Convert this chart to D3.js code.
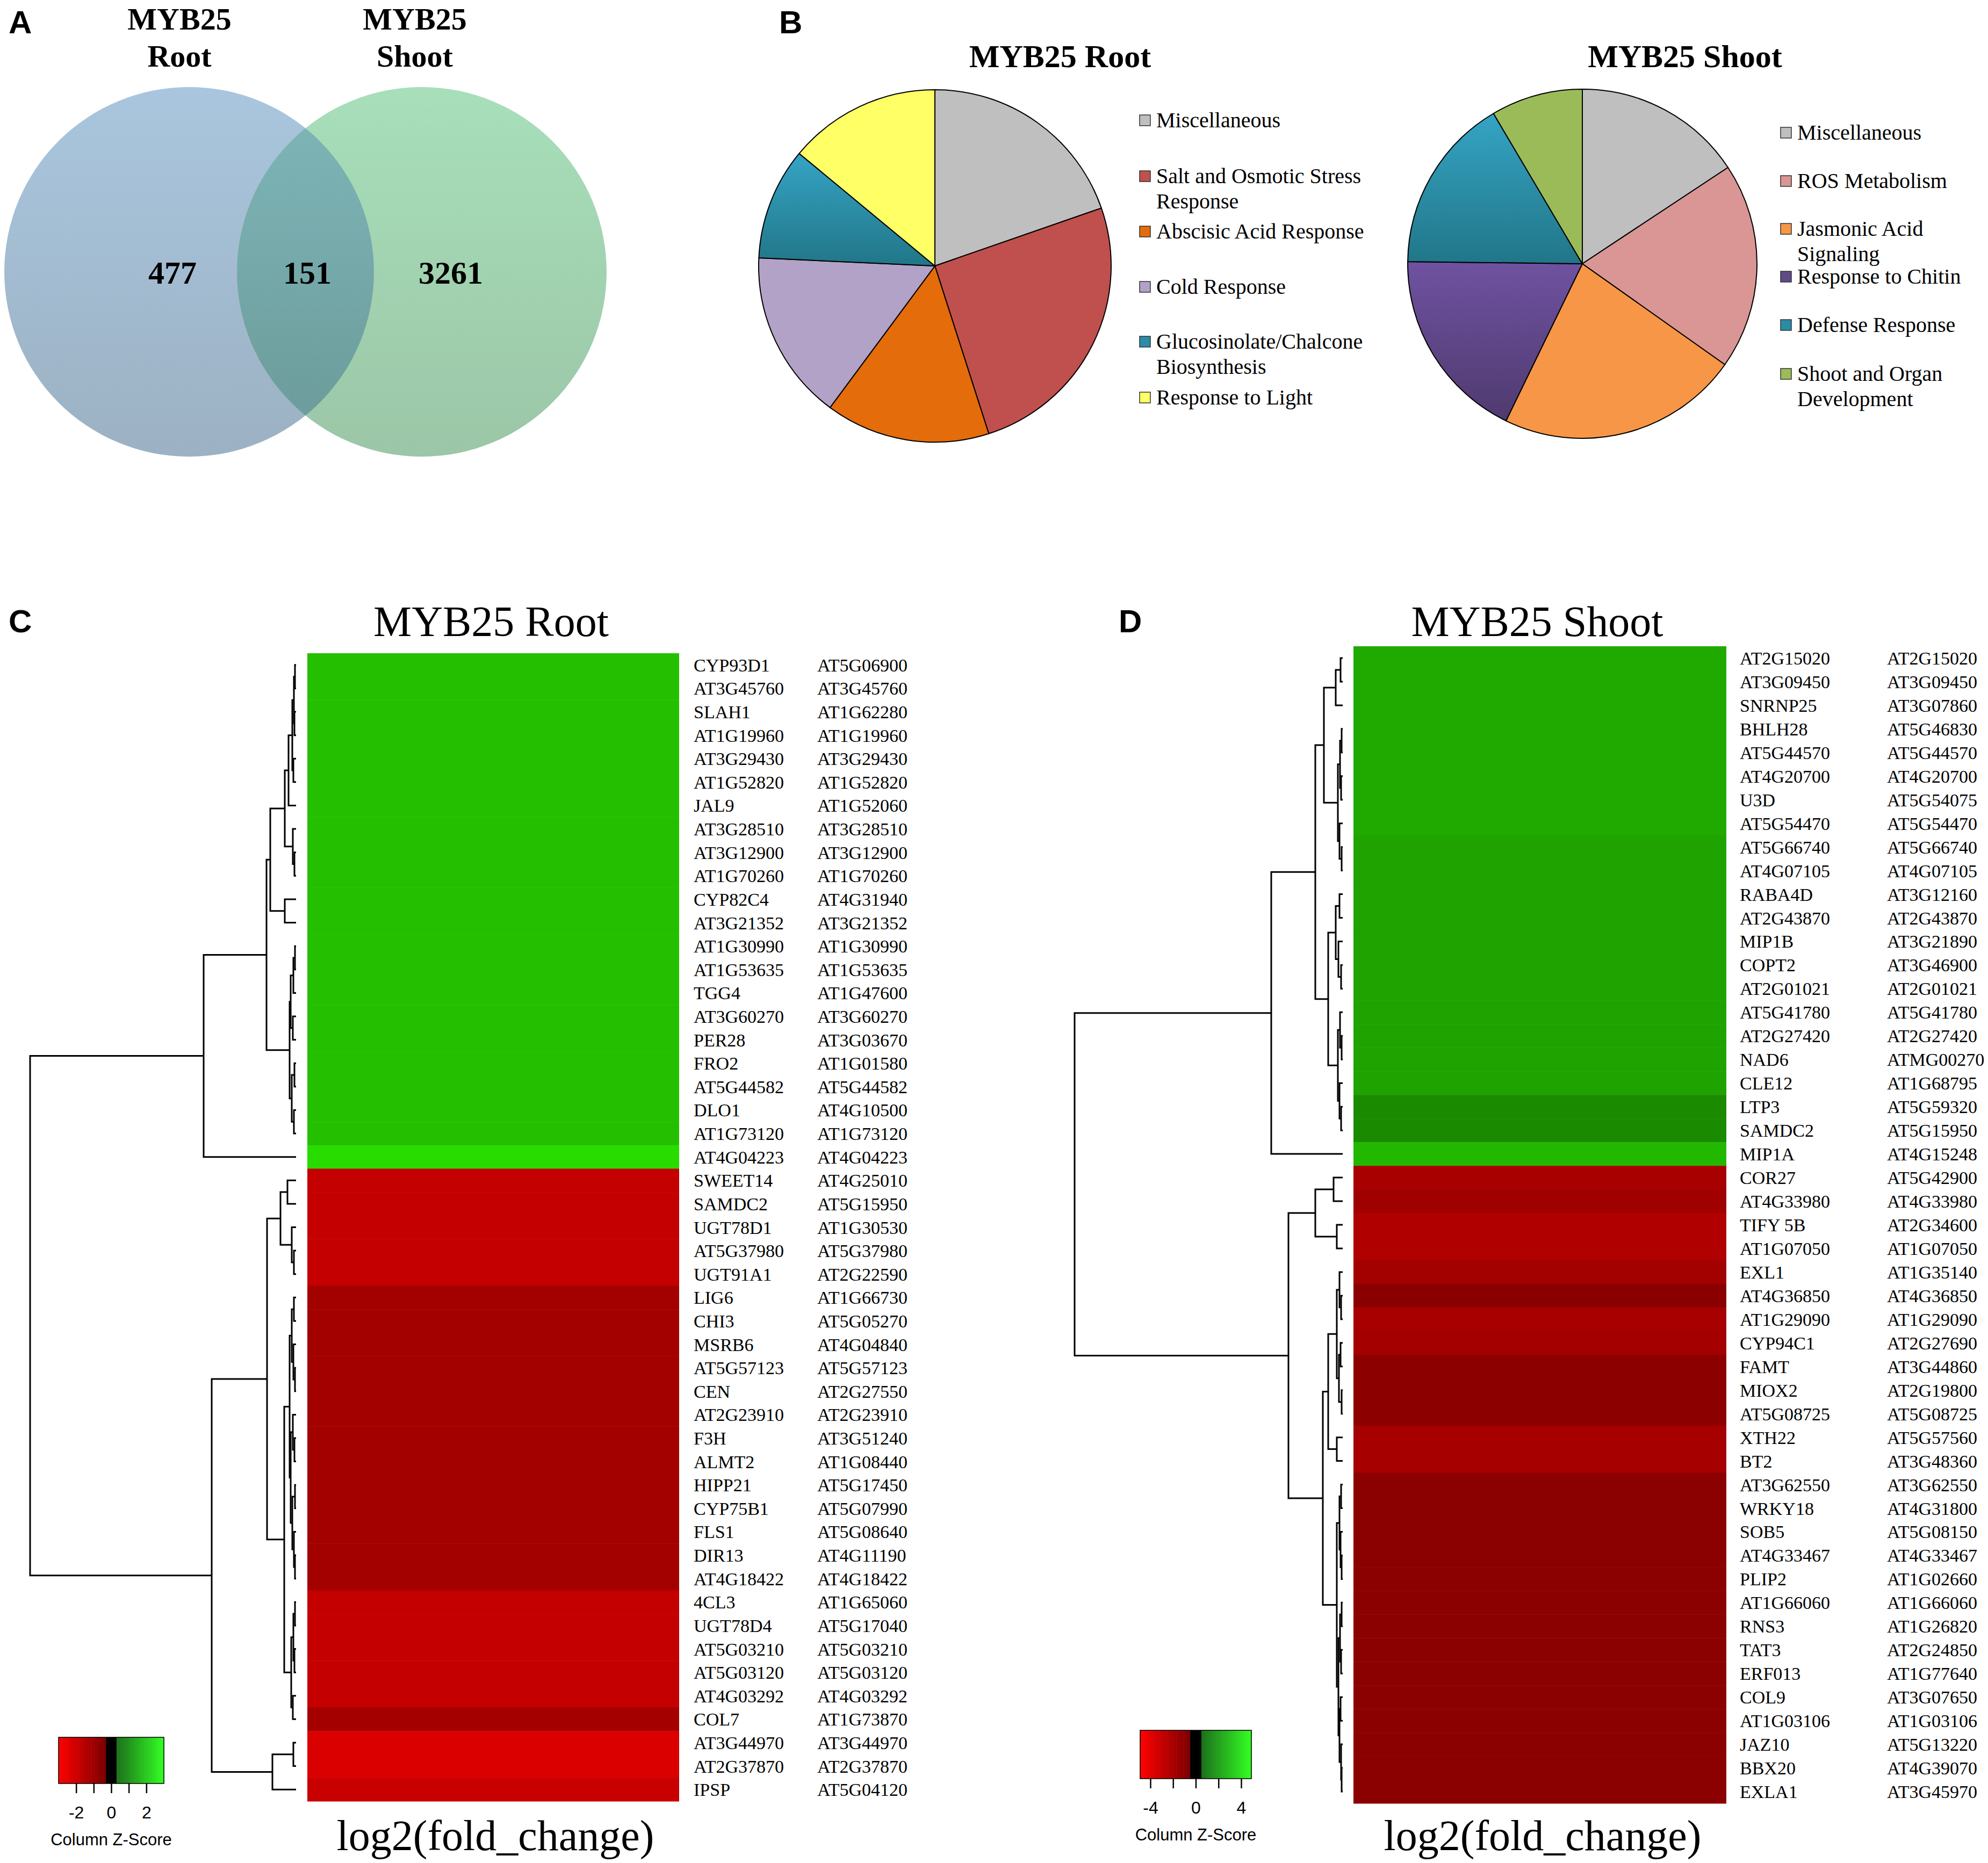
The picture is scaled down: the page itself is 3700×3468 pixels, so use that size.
<!DOCTYPE html>
<html>
<head>
<meta charset="utf-8">
<script src="https://cdn.jsdelivr.net/npm/d3@7"></script>
<style>
  body { margin: 0; background: #fff; }
  svg { display: block; }
</style>
</head>
<body>
<svg width="3700" height="3468" viewBox="0 0 3700 3468"></svg>

<script>

  // ---------- data ----------

  // venn counts (root only, shared, shoot only)
  var vennCounts = [477, 151, 3261];

  // pie slices (share of genes)
  var rootCategories = ["Miscellaneous", "Salt and Osmotic Stress|Response", "Abscisic Acid Response",
    "Cold Response", "Glucosinolate/Chalcone|Biosynthesis", "Response to Light"];
  var rootShares = [19.7, 25.4, 15.1, 15.6, 10.3, 14.0];

  var shootCategories = ["Miscellaneous", "ROS Metabolism", "Jasmonic Acid|Signaling",
    "Response to Chitin", "Defense Response", "Shoot and Organ|Development"];
  var shootShares = [15.7, 19.1, 22.4, 18.0, 16.3, 8.5];

  // heatmap C (root)
  var rootGenes = ["CYP93D1","AT3G45760","SLAH1","AT1G19960","AT3G29430","AT1G52820","JAL9","AT3G28510",
    "AT3G12900","AT1G70260","CYP82C4","AT3G21352","AT1G30990","AT1G53635","TGG4","AT3G60270","PER28",
    "FRO2","AT5G44582","DLO1","AT1G73120","AT4G04223","SWEET14","SAMDC2","UGT78D1","AT5G37980","UGT91A1",
    "LIG6","CHI3","MSRB6","AT5G57123","CEN","AT2G23910","F3H","ALMT2","HIPP21","CYP75B1","FLS1","DIR13",
    "AT4G18422","4CL3","UGT78D4","AT5G03210","AT5G03120","AT4G03292","COL7","AT3G44970","AT2G37870","IPSP"];
  var rootLoci = ["AT5G06900","AT3G45760","AT1G62280","AT1G19960","AT3G29430","AT1G52820","AT1G52060",
    "AT3G28510","AT3G12900","AT1G70260","AT4G31940","AT3G21352","AT1G30990","AT1G53635","AT1G47600",
    "AT3G60270","AT3G03670","AT1G01580","AT5G44582","AT4G10500","AT1G73120","AT4G04223","AT4G25010",
    "AT5G15950","AT1G30530","AT5G37980","AT2G22590","AT1G66730","AT5G05270","AT4G04840","AT5G57123",
    "AT2G27550","AT2G23910","AT3G51240","AT1G08440","AT5G17450","AT5G07990","AT5G08640","AT4G11190",
    "AT4G18422","AT1G65060","AT5G17040","AT5G03210","AT5G03120","AT4G03292","AT1G73870","AT3G44970",
    "AT2G37870","AT5G04120"];
  var rootValues = [2.26,2.26,2.26,2.26,2.26,2.26,2.26,2.26,2.26,2.26,2.26,2.26,2.26,2.26,2.26,2.26,2.26,
    2.26,2.26,2.26,2.26,2.59,-2.31,-2.31,-2.31,-2.31,-2.31,-1.92,-1.92,-1.92,-1.92,-1.92,-1.92,-1.92,-1.92,
    -1.92,-1.92,-1.92,-1.92,-1.92,-2.31,-2.31,-2.31,-2.31,-2.31,-1.94,-2.58,-2.58,-2.35];
  var rootKeyTicks = [-2, -1, 0, 1, 2];

  // heatmap D (shoot)
  var shootGenes = ["AT2G15020","AT3G09450","SNRNP25","BHLH28","AT5G44570","AT4G20700","U3D","AT5G54470",
    "AT5G66740","AT4G07105","RABA4D","AT2G43870","MIP1B","COPT2","AT2G01021","AT5G41780","AT2G27420","NAD6",
    "CLE12","LTP3","SAMDC2","MIP1A","COR27","AT4G33980","TIFY 5B","AT1G07050","EXL1","AT4G36850","AT1G29090",
    "CYP94C1","FAMT","MIOX2","AT5G08725","XTH22","BT2","AT3G62550","WRKY18","SOB5","AT4G33467","PLIP2",
    "AT1G66060","RNS3","TAT3","ERF013","COL9","AT1G03106","JAZ10","BBX20","EXLA1"];
  var shootLoci = ["AT2G15020","AT3G09450","AT3G07860","AT5G46830","AT5G44570","AT4G20700","AT5G54075",
    "AT5G54470","AT5G66740","AT4G07105","AT3G12160","AT2G43870","AT3G21890","AT3G46900","AT2G01021",
    "AT5G41780","AT2G27420","ATMG00270","AT1G68795","AT5G59320","AT5G15950","AT4G15248","AT5G42900",
    "AT4G33980","AT2G34600","AT1G07050","AT1G35140","AT4G36850","AT1G29090","AT2G27690","AT3G44860",
    "AT2G19800","AT5G08725","AT5G57560","AT3G48360","AT3G62550","AT4G31800","AT5G08150","AT4G33467",
    "AT1G02660","AT1G66060","AT1G26820","AT2G24850","AT1G77640","AT3G07650","AT1G03106","AT5G13220",
    "AT4G39070","AT3G45970"];
  var shootValues = [3.27,3.27,3.27,3.27,3.27,3.27,3.27,3.27,3.13,3.13,3.13,3.13,3.13,3.13,3.13,3.13,3.13,
    3.13,3.13,2.65,2.65,3.54,-3.23,-3.07,-3.38,-3.38,-3.13,-2.65,-3.23,-3.15,-2.69,-2.69,-2.69,-3.19,-3.19,
    -2.67,-2.67,-2.67,-2.67,-2.67,-2.67,-2.67,-2.67,-2.67,-2.67,-2.67,-2.67,-2.67,-2.67];
  var shootKeyTicks = [-4, -2, 0, 2, 4];

  // row dendrograms: [merge height, left, right], numbers are row indices
  var rootTree = [495,
    [172,
      [55,
        [48,
          [21,
            [14, [7, [4, [2, 0, 1], [3, 2, 3]], [5, 4, 5]], 6],
            [6, 7, [3, 8, 9]]],
          [21, 10, 11]],
        [12,
          [10, [5, [2, 12, 13], 14], [6, 15, 16]],
          [8, [3, 17, 18], [4, 19, 20]]]],
      21],
    [157,
      [54,
        [29, [16, 22, 23], [8, 24, [4, 25, 26]]],
        [22,
          [12, [8, [4, 27, 28], [5, 29, [2, 30, 31]]], [10, [6, 32, [3, 33, 34]], [7, [2, 35, 36], [4, 37, [2, 38, 39]]]]],
          [9, [5, [2, 40, 41], [3, 42, 43]], [6, 44, 45]]]],
      [44, [5, 46, 47], 48]]];

  var shootTree = [499,
    [133,
      [51,
        [35, [13, [4, 0, 1], 2], [9, [5, [2, 3, 4], [3, 5, 6]], [6, 7, [2, 8, 9]]]],
        [27, [13, [6, 10, 11], [8, 12, [3, 13, 14]]], [9, [5, 15, [2, 16, 17]], [6, 18, [3, 19, 20]]]]],
      21],
    [101,
      [51, [17, 22, 23], [11, 24, 25]],
      [37,
        [27, [11, [6, 26, [3, 27, 28]], [7, [4, 29, 30], [2, 31, 32]]], [11, 33, 34]],
        [11, [6, [3, 35, 36], [4, 37, [2, 38, 39]]], [8, [5, [2, 40, 41], [3, 42, 43]], [6, [4, 44, 45], [3, 46, [2, 47, 48]]]]]]]];

  // ---------- setup ----------

  var serif = "'Liberation Serif', 'Times New Roman', serif";
  var sans = "'Liberation Sans', Arial, sans-serif";

  var svg = d3.select("svg");
  svg.append("rect").attr("width", 3700).attr("height", 3468).attr("fill", "#fff");
  var defs = svg.append("defs");

  function vGradient(id, top, bottom) {
    var g = defs.append("linearGradient").attr("id", id)
      .attr("x1", 0).attr("y1", 0).attr("x2", 0).attr("y2", 1);
    g.append("stop").attr("offset", "0%").attr("stop-color", top);
    g.append("stop").attr("offset", "100%").attr("stop-color", bottom);
  }
  vGradient("gRoot", "#a9c6de", "#9cb1c3");
  vGradient("gShoot", "#a8dfba", "#9bc6a7");
  vGradient("gBoth", "#80b7ba", "#6a9998");
  vGradient("gTeal", "#35a4c4", "#217688");
  vGradient("gPurple", "#6f52a0", "#4f3a6f");

  function panelLetter(t, x, y) {
    svg.append("text").attr("x", x).attr("y", y).text(t)
      .style("font-family", sans).style("font-weight", "bold").style("font-size", "60px");
  }

  // ---------- A: venn ----------

  panelLetter("A", 16, 62);

  var vennX = d3.scaleLinear().domain([0, 1]).range([352, 785]);
  var vennY = 506, vennR = 344;

  defs.append("clipPath").attr("id", "clipLeft")
    .append("circle").attr("cx", vennX(0)).attr("cy", vennY).attr("r", vennR);

  svg.append("circle").attr("cx", vennX(0)).attr("cy", vennY).attr("r", vennR).attr("fill", "url(#gRoot)");
  svg.append("circle").attr("cx", vennX(1)).attr("cy", vennY).attr("r", vennR).attr("fill", "url(#gShoot)");
  svg.append("circle").attr("cx", vennX(1)).attr("cy", vennY).attr("r", vennR)
    .attr("fill", "url(#gBoth)").attr("clip-path", "url(#clipLeft)");

  [["MYB25", "Root", 334], ["MYB25", "Shoot", 772]].forEach(function(t){
    svg.append("text").attr("x", t[2]).attr("y", 55).attr("text-anchor", "middle").text(t[0])
      .style("font-family", serif).style("font-weight", "bold").style("font-size", "58px");
    svg.append("text").attr("x", t[2]).attr("y", 124).attr("text-anchor", "middle").text(t[1])
      .style("font-family", serif).style("font-weight", "bold").style("font-size", "58px");
  });

  var countX = [321, 572, 839];
  svg.selectAll(".venn-count").data(vennCounts).enter().append("text")
    .attr("x", function(d, i){ return countX[i]; })
    .attr("y", 528)
    .attr("text-anchor", "middle")
    .text(function(d){ return d; })
    .style("font-family", serif).style("font-weight", "bold").style("font-size", "60px");

  // ---------- B: pies ----------

  panelLetter("B", 1450, 62);

  var rootColors = ["#bfbfbf", "#c0504d", "#e46c0a", "#b2a2c7", "url(#gTeal)", "#ffff66"];
  var rootKeyColors = ["#bfbfbf", "#c0504d", "#e46c0a", "#b2a2c7", "#2a8ca6", "#ffff66"];
  var shootColors = ["#bfbfbf", "#d99694", "#f79646", "url(#gPurple)", "url(#gTeal)", "#9bbb59"];
  var shootKeyColors = ["#bfbfbf", "#d99694", "#f79646", "#604a87", "#2a8ca6", "#9bbb59"];

  function drawPie(opts) {
    var g = svg.append("g").attr("transform", "translate(" + opts.cx + "," + opts.cy + ")");
    var pie = d3.pie().sort(null).value(function(d){ return d; });
    var arc = d3.arc().innerRadius(0).outerRadius(opts.r);
    g.selectAll("path").data(pie(opts.values)).enter().append("path")
      .attr("d", arc)
      .attr("fill", function(d, i){ return opts.colors[i]; })
      .attr("stroke", "#000").attr("stroke-width", 2).attr("stroke-linejoin", "round");

    svg.append("text").attr("x", opts.titleX).attr("y", 125).attr("text-anchor", "middle")
      .text(opts.title)
      .style("font-family", serif).style("font-weight", "bold").style("font-size", "60px");

    // legend
    opts.labels.forEach(function(lab, i){
      var y = opts.legendY[i];
      svg.append("rect").attr("x", opts.legendX).attr("y", y - 23).attr("width", 20).attr("height", 20)
        .attr("fill", opts.keyColors[i]).attr("stroke", "#333").attr("stroke-width", 1.5);
      var t = svg.append("text").attr("x", opts.legendX + 31).attr("y", y)
        .style("font-family", serif).style("font-size", "40px");
      lab.split("|").forEach(function(part, j){
        t.append("tspan").attr("x", opts.legendX + 31).attr("dy", j ? 47 : 0).text(part);
      });
    });
  }

  drawPie({cx: 1740, cy: 495, r: 328, values: rootShares, colors: rootColors, keyColors: rootKeyColors,
    labels: rootCategories, title: "MYB25 Root", titleX: 1973,
    legendX: 2121, legendY: [237, 341, 444, 547, 649, 753]});

  drawPie({cx: 2945, cy: 491, r: 325, values: shootShares, colors: shootColors, keyColors: shootKeyColors,
    labels: shootCategories, title: "MYB25 Shoot", titleX: 3136,
    legendX: 3314, legendY: [260, 350, 439, 528, 618, 709]});

  // ---------- C / D: heatmaps ----------

  function drawTree(tree, xScale, yBand) {
    var g = svg.append("g").attr("fill", "none").attr("stroke", "#000").attr("stroke-width", 3);
    function walk(node) {
      if (typeof node === "number") {
        return {x: xScale(0), y: yBand(node) + yBand.bandwidth() / 2};
      }
      var a = walk(node[1]), b = walk(node[2]);
      var x = xScale(node[0]);
      g.append("path").attr("d", "M" + a.x + "," + a.y + "H" + x + "V" + b.y + "H" + b.x);
      return {x: x, y: (a.y + b.y) / 2};
    }
    walk(tree);
  }

  function keyColor(v, max) {
    var band = max * 0.09;
    if (Math.abs(v) < band) return "#000";
    if (v < 0) return d3.interpolateRgb("#7a0000", "#ff0000")((-v - band) / (max - band));
    return d3.interpolateRgb("#1c6e1c", "#33ff22")((v - band) / (max - band));
  }

  function drawHeatmap(opts) {
    var n = opts.genes.length;
    var y = d3.scaleBand().domain(d3.range(n)).range([opts.top, opts.bottom]);
    var color = d3.scaleLinear().domain([-opts.max, 0, opts.max])
      .range(["#ff0000", "#000000", "#30ff00"]);

    panelLetter(opts.letter, opts.letterX, 1177);

    svg.append("text").attr("x", opts.titleX).attr("y", 1184).attr("text-anchor", "middle")
      .text(opts.title).style("font-family", serif).style("font-size", "80px");

    svg.append("g").selectAll("rect").data(opts.values).enter().append("rect")
      .attr("x", opts.left)
      .attr("y", function(d, i){ return y(i); })
      .attr("width", opts.right - opts.left)
      .attr("height", y.bandwidth() + 0.5)
      .attr("fill", function(d){ return color(d); });

    [opts.genes, opts.loci].forEach(function(col, c){
      svg.append("g").selectAll("text").data(col).enter().append("text")
        .attr("x", opts.labelX[c])
        .attr("y", function(d, i){ return y(i) + y.bandwidth() / 2 + 12; })
        .text(function(d){ return d; })
        .style("font-family", serif).style("font-size", "34px").style("white-space", "pre");
    });

    var tx = d3.scaleLinear().domain([0, opts.tree[0]]).range([opts.leafX, opts.rootX]);
    drawTree(opts.tree, tx, y);

    svg.append("text").attr("x", opts.xLabelX).attr("y", 3444).attr("text-anchor", "middle")
      .text("log2(fold_change)").style("font-family", serif).style("font-size", "80px");

    // colour key
    var kx = d3.scaleLinear().domain([-opts.max, opts.max]).range(opts.keyRange);
    var bins = d3.range(80).map(function(i){ return -opts.max + (i + 0.5) * 2 * opts.max / 80; });
    var step = (opts.keyRange[1] - opts.keyRange[0]) / 80;
    var kg = svg.append("g");
    kg.selectAll("rect").data(bins).enter().append("rect")
      .attr("x", function(d){ return kx(d) - step / 2; })
      .attr("y", opts.keyTop).attr("width", step + 0.6).attr("height", opts.keyH)
      .attr("fill", function(d){ return keyColor(d, opts.max); });
    kg.append("rect").attr("x", opts.keyRange[0]).attr("y", opts.keyTop)
      .attr("width", opts.keyRange[1] - opts.keyRange[0]).attr("height", opts.keyH)
      .attr("fill", "none").attr("stroke", "#000").attr("stroke-width", 1.5);

    var axis = d3.axisBottom(kx).tickValues(opts.keyTicks).tickSize(18).tickPadding(24)
      .tickFormat(function(d, i){ return i % 2 ? "" : d; });
    var ag = svg.append("g").attr("transform", "translate(0," + (opts.keyTop + opts.keyH) + ")").call(axis);
    ag.select(".domain").remove();
    ag.selectAll("line").attr("stroke-width", 2.5);
    ag.selectAll("text").style("font-family", sans).style("font-size", "32px").attr("fill", "#000");

    svg.append("text").attr("x", kx(0)).attr("y", opts.keyTop + opts.keyH + 115).attr("text-anchor", "middle")
      .text("Column Z-Score").style("font-family", sans).style("font-size", "31px");
  }

  drawHeatmap({letter: "C", letterX: 16, title: "MYB25 Root", titleX: 914,
    genes: rootGenes, loci: rootLoci, values: rootValues, max: 3,
    top: 1216, bottom: 3353, left: 572, right: 1264, labelX: [1291, 1521],
    tree: rootTree, leafX: 551, rootX: 56, xLabelX: 922,
    keyRange: [109, 305], keyTop: 3234, keyH: 86, keyTicks: rootKeyTicks});

  drawHeatmap({letter: "D", letterX: 2082, title: "MYB25 Shoot", titleX: 2861,
    genes: shootGenes, loci: shootLoci, values: shootValues, max: 4.9,
    top: 1203, bottom: 3357, left: 2519, right: 3213, labelX: [3238, 3512],
    tree: shootTree, leafX: 2499, rootX: 2000, xLabelX: 2871,
    keyRange: [2122, 2329], keyTop: 3221, keyH: 90, keyTicks: shootKeyTicks});

</script>
</body>
</html>
